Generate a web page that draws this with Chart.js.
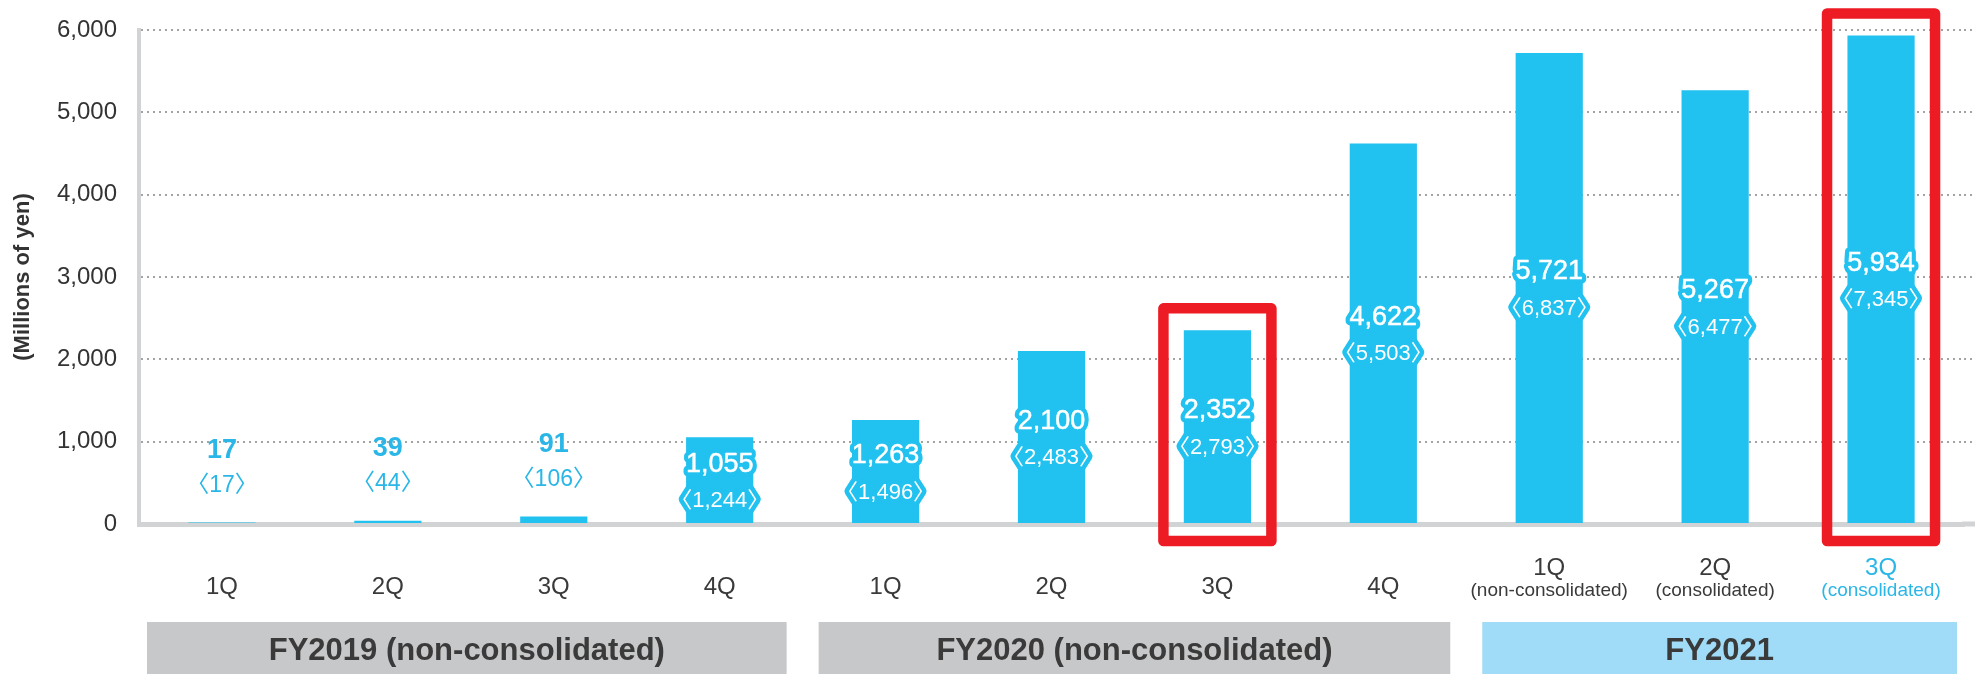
<!DOCTYPE html>
<html>
<head>
<meta charset="utf-8">
<script src="https://cdn.jsdelivr.net/npm/chart.js@4.4.0/dist/chart.umd.min.js"></script>
<style>
  html, body { margin: 0; padding: 0; background: #fff; }
  #wrap { width: 1981px; height: 674px; }
</style>
</head>
<body>
<div id="wrap"><canvas id="chart"></canvas></div>
<script>
// quarterly figures, millions of yen
const quarters = ["1Q", "2Q", "3Q", "4Q", "1Q", "2Q", "3Q", "4Q", "1Q", "2Q", "3Q"];
const quarterNotes = ["", "", "", "", "", "", "", "", "(non-consolidated)", "(consolidated)", "(consolidated)"];
const barValues = [17, 39, 91, 1055, 1263, 2100, 2352, 4622, 5721, 5267, 5934];
const bracketValues = [17, 44, 106, 1244, 1496, 2483, 2793, 5503, 6837, 6477, 7345];
const yearNames = ["FY2019 (non-consolidated)", "FY2020 (non-consolidated)", "FY2021"];
const yearFirst = [0, 4, 8];
const yearLast = [3, 7, 10];
const highlighted = [6, 10];

const BLUE = "#21c1f0";
const TEXT_BLUE = "#2ab6e6";
const DARK = "#3a3a3a";
const GRID = "#a3a3a3";
const AXIS = "#d1d3d4";
const FONT = '"Liberation Sans", Arial, "Noto Sans CJK JP", sans-serif';

const fmt = v => v.toLocaleString("en-US");

const barLabels = {
    id: "barLabels",
    beforeDatasetsDraw(chart) {
        // grid lines and baseline run a little past the last category
        const { ctx, chartArea, scales: { y } } = chart;
        ctx.save();
        ctx.strokeStyle = GRID;
        ctx.lineWidth = 2;
        ctx.setLineDash([2, 4]);
        y.ticks.forEach(t => {
            if (t.value === 0) return;
            const py = Math.round(y.getPixelForValue(t.value));
            ctx.beginPath();
            ctx.moveTo(chartArea.right, py);
            ctx.lineTo(chartArea.right + 10, py);
            ctx.stroke();
        });
        ctx.setLineDash([]);
        ctx.strokeStyle = AXIS;
        ctx.lineWidth = 5;
        ctx.beginPath();
        ctx.moveTo(chartArea.right - 2, chartArea.bottom);
        ctx.lineTo(chartArea.right + 11, chartArea.bottom);
        ctx.stroke();
        ctx.restore();
    },
    afterDatasetsDraw(chart) {
        const { ctx, scales: { y } } = chart;
        const meta = chart.getDatasetMeta(0);
        ctx.save();
        ctx.textAlign = "center";
        ctx.textBaseline = "middle";
        ctx.lineJoin = "round";
        meta.data.forEach((bar, i) => {
            const v = barValues[i];
            const main = fmt(v);
            const sub = "\u3008" + fmt(bracketValues[i]) + "\u3009";
            if (v < 500) {
                const mid = y.getPixelForValue(v + 670);
                ctx.fillStyle = TEXT_BLUE;
                ctx.font = "bold 27px " + FONT;
                ctx.fillText(main, bar.x, mid - 17);
                ctx.font = "23px " + FONT;
                ctx.fillText(sub, bar.x, mid + 18);
            } else {
                const mid = (bar.y + bar.base) / 2 + 2;
                ctx.strokeStyle = BLUE;
                ctx.lineWidth = 9;
                ctx.fillStyle = "#fff";
                ctx.font = "27px " + FONT;
                ctx.strokeText(main, bar.x, mid - 18);
                ctx.fillText(main, bar.x, mid - 18);
                ctx.strokeStyle = "#fff";
                ctx.lineWidth = 0.5;
                ctx.strokeText(main, bar.x, mid - 18);
                ctx.strokeStyle = BLUE;
                ctx.lineWidth = 9;
                ctx.font = "22px " + FONT;
                ctx.strokeText(sub, bar.x, mid + 19);
                ctx.fillText(sub, bar.x, mid + 19);
            }
        });

        // red highlight frames
        ctx.strokeStyle = "#ed1c24";
        ctx.lineWidth = 10.5;
        highlighted.forEach(i => {
            const bar = meta.data[i];
            const top = bar.y - 22;
            const bottom = chart.chartArea.bottom + 17;
            ctx.strokeRect(bar.x - 54, top, 108, bottom - top);
        });
        ctx.restore();
    },
    afterDraw(chart) {
        const { ctx, chartArea, scales: { x } } = chart;
        const bottom = chartArea.bottom;
        const half = (x.getPixelForValue(1) - x.getPixelForValue(0)) / 2;
        ctx.save();
        ctx.textAlign = "center";
        ctx.textBaseline = "middle";

        // quarter labels
        quarters.forEach((q, i) => {
            const cx = x.getPixelForValue(i);
            ctx.fillStyle = i === quarters.length - 1 ? TEXT_BLUE : DARK;
            if (quarterNotes[i]) {
                ctx.font = "24px " + FONT;
                ctx.fillText(q, cx, bottom + 44);
                ctx.font = "19px " + FONT;
                ctx.fillText(quarterNotes[i], cx, bottom + 67);
            } else {
                ctx.font = "24px " + FONT;
                ctx.fillText(q, cx, bottom + 63);
            }
        });

        // fiscal year bands
        const boxTop = bottom + 98;
        yearNames.forEach((name, k) => {
            const left = x.getPixelForValue(yearFirst[k]) - half + (k === 0 ? 8 : 16);
            const right = x.getPixelForValue(yearLast[k]) + half - (k === yearNames.length - 1 ? 7 : 16);
            ctx.fillStyle = k === yearNames.length - 1 ? "#a0dcf7" : "#c7c8ca";
            ctx.fillRect(left, boxTop, right - left, chart.height - boxTop);
            ctx.fillStyle = DARK;
            ctx.font = "bold 31px " + FONT;
            ctx.fillText(name, (left + right) / 2, boxTop + 29);
        });
        ctx.restore();
    }
};

new Chart(document.getElementById("chart"), {
    type: "bar",
    data: {
        labels: quarters,
        datasets: [{
            data: barValues,
            backgroundColor: BLUE,
            barPercentage: 0.405,
            categoryPercentage: 1,
        }],
    },
    options: {
        responsive: true,
        maintainAspectRatio: false,
        animation: false,
        layout: { autoPadding: false, padding: { top: 30, right: 17, left: 0, bottom: 0 } },
        plugins: {
            legend: { display: false },
            tooltip: { enabled: false },
        },
        scales: {
            x: {
                ticks: { display: false },
                grid: { display: false },
                border: { display: true, color: AXIS, width: 5 },
                afterFit: s => { s.height = 150; s.paddingLeft = 0; s.paddingRight = 0; },
            },
            y: {
                min: 0,
                max: 6000,
                ticks: {
                    stepSize: 1000,
                    padding: 22,
                    color: "#333",
                    font: { family: FONT, size: 24 },
                    callback: v => fmt(v),
                },
                grid: {
                    drawTicks: false,
                    lineWidth: 2,
                    color: c => (c.tick && c.tick.value === 0 ? "rgba(0,0,0,0)" : GRID),
                },
                border: { display: true, color: AXIS, width: 4, dash: [2, 4] },
                title: {
                    display: true,
                    text: "(Millions of yen)",
                    color: "#333",
                    font: { family: FONT, size: 22, weight: "bold" },
                    padding: { top: 10, bottom: 0 },
                },
                afterFit: s => { s.width = 139; s.paddingTop = 0; s.paddingBottom = 0; },
            },
        },
    },
    plugins: [barLabels],
});
</script>
</body>
</html>
